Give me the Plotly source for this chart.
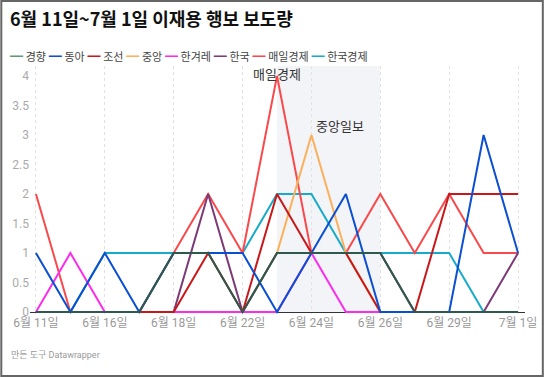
import plotly.graph_objects as go

# ---- data ----
dates = ["6월 11일", "6월 15일", "6월 16일", "6월 17일", "6월 18일", "6월 19일", "6월 22일",
         "6월 23일", "6월 24일", "6월 25일", "6월 26일", "6월 28일", "6월 29일", "6월 30일", "7월 1일"]
tick_dates = ["6월 11일", "6월 16일", "6월 18일", "6월 22일", "6월 24일", "6월 26일", "6월 29일", "7월 1일"]

kyunghyang = [0, 0, 0, 0, 1, 1, 0, 1, 1, 1, 1, 0, 0, 0, 0]
donga      = [1, 0, 1, 0, 1, 1, 1, 0, 1, 2, 0, 0, 0, 3, 1]
chosun     = [0, 0, 0, 0, 0, 1, 0, 2, 1, 1, 0, 0, 2, 2, 2]
joongang   = [0, 0, 0, 0, 0, 0, 0, 1, 3, 1, 0, 0, 0, 0, 0]
hankyoreh  = [0, 1, 0, 0, 0, 0, 0, 0, 1, 0, 0, 0, 0, 0, 0]
hankook    = [0, 0, 0, 0, 0, 2, 0, 1, 1, 1, 1, 0, 0, 0, 1]
maeil      = [2, 0, 0, 0, 1, 2, 1, 4, 1, 1, 2, 1, 2, 1, 1]
hankyung   = [0, 0, 1, 1, 1, 1, 1, 2, 2, 1, 1, 1, 1, 0, 0]

names = ["경향", "동아", "조선", "중앙", "한겨레", "한국", "매일경제", "한국경제"]
values = [kyunghyang, donga, chosun, joongang, hankyoreh, hankook, maeil, hankyung]
colors = ["#2d5a4c", "#0b4fd2", "#c9181a", "#fbb05c", "#fb2cf0", "#7c3a76", "#f84a4c", "#17abc9"]
legend_colors = ["#5f9a80", "#0b4fd2", "#c9181a", "#fbb05c", "#fb2cf0", "#7c3a76", "#f84a4c", "#17abc9"]

highlight_start, highlight_end = "6월 23일", "6월 26일"
notes = [("매일경제", 7, 4.03), ("중앙일보", 8.82, 3.14)]

# ---- figure ----
W, H = 549, 377
L, R, T, B = 30, 19, 66, 63
PW, PH = W - L - R, H - T - B


def px_x(p):
    return (p - L) / PW


def px_y(p):
    return (H - B - p) / PH


FONT = "Roboto, 'Noto Sans CJK KR', sans-serif"

fig = go.Figure()
draw_order = [7, 6, 3, 4, 5, 2, 1, 0]
for i in draw_order:
    fig.add_trace(go.Scatter(x=dates, y=values[i], mode="lines", name=names[i],
                             line=dict(color=colors[i], width=2), showlegend=False,
                             hoverinfo="skip"))

# highlighted range
fig.add_shape(type="rect", xref="x", yref="paper",
              x0=dates.index(highlight_start), x1=dates.index(highlight_end),
              y0=px_y(312), y1=1, fillcolor="rgba(225,228,235,0.4)", line_width=0, layer="below")

# legend as text
legend_txt = " ".join(
    f"<span style='color:{c};font-size:13px'>━</span> {n}" for n, c in zip(names, legend_colors))
fig.add_annotation(text=legend_txt, xref="paper", yref="paper", x=px_x(8), y=px_y(57),
                   xanchor="left", yanchor="middle", showarrow=False,
                   font=dict(family=FONT, size=11, color="#444"))

for txt, xi, yv in notes:
    fig.add_annotation(text=txt, x=xi, y=yv, xref="x", yref="y", showarrow=False,
                       font=dict(family=FONT, size=13, color="#333"))

fig.add_annotation(text="만든 도구 Datawrapper", xref="paper", yref="paper",
                   x=px_x(9), y=px_y(355), xanchor="left", yanchor="middle", showarrow=False,
                   font=dict(family=FONT, size=9, color="#999"))

# border
fig.add_shape(type="rect", xref="paper", yref="paper",
              x0=px_x(1), x1=px_x(548), y0=px_y(376), y1=px_y(1),
              line=dict(color="#666", width=2), fillcolor="rgba(0,0,0,0)")

fig.update_layout(
    width=W, height=H, autosize=False,
    margin=dict(l=L, r=R, t=T, b=B, pad=0),
    paper_bgcolor="white", plot_bgcolor="white",
    title=dict(text="<b>6월 11일~7월 1일 이재용 행보 보도량</b>", x=10 / W, xanchor="left",
               y=1 - 20 / H, yanchor="middle", xref="container", yref="container",
               font=dict(family="'Noto Sans CJK KR', sans-serif", size=18, color="#111")),
    showlegend=False,
)
fig.update_xaxes(type="category", categoryorder="array", categoryarray=dates,
                 range=[-6 / 34.79, 14 + 7 / 34.79],
                 tickvals=tick_dates, ticktext=tick_dates, showgrid=True, griddash="dot",
                 gridcolor="#e2e2e2", gridwidth=1, showline=False, zeroline=False, ticks="",
                 tickfont=dict(family=FONT, size=12, color="#999"))
fig.update_yaxes(range=[-2 / 59, (312 - 66) / 59], dtick=0.5, tick0=0, showgrid=False,
                 zeroline=True, zerolinecolor="#333", zerolinewidth=1, showline=False, ticks="",
                 tickfont=dict(family=FONT, size=12, color="#aaa"))

fig.write_html("out.html", config={"displayModeBar": False},
               post_script="document.body.style.margin='0';document.body.style.overflow='hidden';")
